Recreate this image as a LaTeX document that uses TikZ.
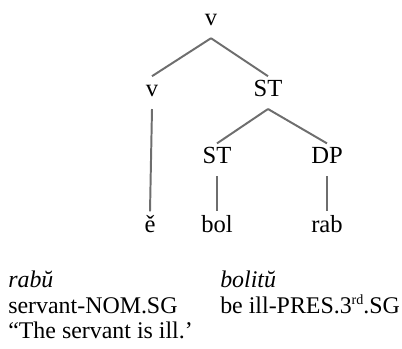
\documentclass[tikz,border=0pt]{standalone}
\usepackage{fontspec}
\setmainfont{Liberation Serif}
\usepackage{xcolor}
\usepackage{tikz}
\definecolor{branch_gray}{HTML}{6e6e6e}
\newcommand{\supsm}[1]{\raisebox{0.75ex}{\fontsize{10}{10}\selectfont #1}}

\begin{document}
\begin{tikzpicture}[
                cat/.style={anchor=base, inner xsep=0pt, font=\fontsize{17.5}{21}\selectfont, text height=1.6ex, text depth=0.3ex, inner ysep=0.25cm},
                gloss/.style={anchor=base west, inner sep=0pt, font=\fontsize{17}{20}\selectfont},
                branch/.style={branch_gray, line width=1.4pt}
        ]
                \useasboundingbox (0,0) rectangle (10.05,-8.725);

                \node (top) at (5.275,-0.65) [cat] {v};
                \node (vl) at (3.8,-2.42) [cat] {v};
                \node (stu) at (6.7,-2.42) [cat] {ST};
                \node (stl) at (5.425,-4.1) [cat] {ST};
                \node (dp) at (8.175,-4.1) [cat] {DP};
                \node (e) at (3.75,-5.8) [cat] {ě};
                \node (bol) at (5.425,-5.8) [cat] {bol};
                \node (rab) at (8.175,-5.8) [cat] {rab};

                \draw[branch] (top.south) -- (vl.north);
                \draw[branch] (top.south) -- (stu.north);
                \draw[branch] (vl.south) -- (e.north);
                \draw[branch] (stu.south) -- (stl.north);
                \draw[branch] (stu.south) -- (dp.north);
                \draw[branch] (stl.south) -- (bol.north);
                \draw[branch] (dp.south) -- (rab.north);

                \node (g1) at (0.2,-7.175) [gloss] {\textit{rabŭ}};
                \node (g2) at (0.2,-7.825) [gloss] {servant-NOM.SG};
                \node (g3) at (0.2,-8.45) [gloss] {“The servant is ill.’};
                \node (h1) at (5.5,-7.175) [gloss] {\textit{bolitŭ}};
                \node (h2) at (5.5,-7.825) [gloss] {be ill-PRES.3\supsm{rd}.SG};
\end{tikzpicture}
\end{document}
